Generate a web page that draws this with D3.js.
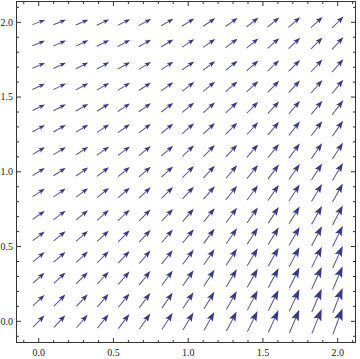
<!DOCTYPE html>
<html>
<head>
<meta charset="utf-8">
<script src="https://cdn.jsdelivr.net/npm/d3@7"></script>
<style>
  body { margin: 0; background: white; }
  svg { display: block; }
  .tick-label { font-family: "Liberation Serif", "DejaVu Serif", serif; font-size: 10px; fill: #222; }
</style>
</head>
<body>
<svg id="vis-field" width="360" height="359"></svg>
<script>

// grid sample positions (x columns, y rows)
const xVals = [0, 0.14, 0.29, 0.43, 0.57, 0.71, 0.86, 1.0, 1.14, 1.29, 1.43, 1.57, 1.71, 1.86, 2.0];
const yVals = [0, 0.14, 0.29, 0.43, 0.57, 0.71, 0.86, 1.0, 1.14, 1.29, 1.43, 1.57, 1.71, 1.86, 2.0];

// slope dy/dx of the arrow at each grid point, one row per y value (bottom row first)
const slopes = [
  [1.00, 1.07, 1.15, 1.24, 1.33, 1.43, 1.54, 1.65, 1.77, 1.90, 2.04, 2.20, 2.36, 2.53, 2.72],
  [0.93, 1.00, 1.07, 1.15, 1.24, 1.33, 1.43, 1.54, 1.65, 1.77, 1.90, 2.04, 2.20, 2.36, 2.53],
  [0.87, 0.93, 1.00, 1.07, 1.15, 1.24, 1.33, 1.43, 1.54, 1.65, 1.77, 1.90, 2.04, 2.20, 2.36],
  [0.81, 0.87, 0.93, 1.00, 1.07, 1.15, 1.24, 1.33, 1.43, 1.54, 1.65, 1.77, 1.90, 2.04, 2.20],
  [0.75, 0.81, 0.87, 0.93, 1.00, 1.07, 1.15, 1.24, 1.33, 1.43, 1.54, 1.65, 1.77, 1.90, 2.04],
  [0.70, 0.75, 0.81, 0.87, 0.93, 1.00, 1.07, 1.15, 1.24, 1.33, 1.43, 1.54, 1.65, 1.77, 1.90],
  [0.65, 0.70, 0.75, 0.81, 0.87, 0.93, 1.00, 1.07, 1.15, 1.24, 1.33, 1.43, 1.54, 1.65, 1.77],
  [0.61, 0.65, 0.70, 0.75, 0.81, 0.87, 0.93, 1.00, 1.07, 1.15, 1.24, 1.33, 1.43, 1.54, 1.65],
  [0.57, 0.61, 0.65, 0.70, 0.75, 0.81, 0.87, 0.93, 1.00, 1.07, 1.15, 1.24, 1.33, 1.43, 1.54],
  [0.53, 0.57, 0.61, 0.65, 0.70, 0.75, 0.81, 0.87, 0.93, 1.00, 1.07, 1.15, 1.24, 1.33, 1.43],
  [0.49, 0.53, 0.57, 0.61, 0.65, 0.70, 0.75, 0.81, 0.87, 0.93, 1.00, 1.07, 1.15, 1.24, 1.33],
  [0.46, 0.49, 0.53, 0.57, 0.61, 0.65, 0.70, 0.75, 0.81, 0.87, 0.93, 1.00, 1.07, 1.15, 1.24],
  [0.42, 0.46, 0.49, 0.53, 0.57, 0.61, 0.65, 0.70, 0.75, 0.81, 0.87, 0.93, 1.00, 1.07, 1.15],
  [0.40, 0.42, 0.46, 0.49, 0.53, 0.57, 0.61, 0.65, 0.70, 0.75, 0.81, 0.87, 0.93, 1.00, 1.07],
  [0.37, 0.40, 0.42, 0.46, 0.49, 0.53, 0.57, 0.61, 0.65, 0.70, 0.75, 0.81, 0.87, 0.93, 1.00]
];

const majorTicks = [0, 0.5, 1.0, 1.5, 2.0];
const tickLabels = ['0.0', '0.5', '1.0', '1.5', '2.0'];
const minorTicks = [-0.1, 0.1, 0.2, 0.3, 0.4, 0.6, 0.7, 0.8, 0.9, 1.1, 1.2, 1.3, 1.4, 1.6, 1.7, 1.8, 1.9, 2.1];

const field = {

    dims : {

        frame : { left : 16.5, right : 355.5, top : 1.5, bottom : 342.5 },
        major : 4.5,
        minor : 2.5

    },

    scales : {

        x : d3.scaleLinear().domain([0, 2]).range([38.7, 337.7]),
        y : d3.scaleLinear().domain([0, 2]).range([321.3, 22.3]),
        len : null

    },

    colors : {

        arrow : '#3a388a',
        shaft : '#57558f',
        frame : '#333'

    },

    data : {

        points : [],

        build : function() {

            slopes.forEach((row, j) => {
                row.forEach((s, i) => {
                    field.data.points.push({
                        x : xVals[i],
                        y : yVals[j],
                        u : 1,
                        v : s,
                        mag : Math.hypot(1, s)
                    });
                });
            });

            field.scales.len = d3.scaleLinear()
              .domain(d3.extent(field.data.points, d => d.mag))
              .range([13.5, 28]);

        }

    },

    render : {

        frame : function(svg) {

            const f = field.dims.frame;
            const x = field.scales.x, y = field.scales.y;
            const g = svg.append('g').attr('stroke', field.colors.frame).attr('fill', 'none');

            g.append('rect')
              .attr('x', f.left).attr('y', f.top)
              .attr('width', f.right - f.left).attr('height', f.bottom - f.top)
              .attr('stroke-width', 1);

            const ticks = majorTicks.map(t => ({ t, len : field.dims.major }))
              .concat(minorTicks.map(t => ({ t, len : field.dims.minor })));

            // ticks on all four sides, pointing in
            ticks.forEach(d => {
                g.append('line')
                  .attr('x1', x(d.t)).attr('x2', x(d.t))
                  .attr('y1', f.bottom).attr('y2', f.bottom - d.len);
                g.append('line')
                  .attr('x1', x(d.t)).attr('x2', x(d.t))
                  .attr('y1', f.top).attr('y2', f.top + d.len);
                g.append('line')
                  .attr('x1', f.left).attr('x2', f.left + d.len)
                  .attr('y1', y(d.t)).attr('y2', y(d.t));
                g.append('line')
                  .attr('x1', f.right).attr('x2', f.right - d.len)
                  .attr('y1', y(d.t)).attr('y2', y(d.t));
            });

            svg.append('g')
              .selectAll('text')
              .data(majorTicks)
              .join('text')
              .attr('class', 'tick-label')
              .attr('x', d => x(d))
              .attr('y', 355.5)
              .attr('text-anchor', 'middle')
              .text((d, i) => tickLabels[i]);

            svg.append('g')
              .selectAll('text')
              .data(majorTicks)
              .join('text')
              .attr('class', 'tick-label')
              .attr('x', 13)
              .attr('y', d => y(d) + 3.4)
              .attr('text-anchor', 'end')
              .text((d, i) => tickLabels[i]);

        },

        arrows : function(svg) {

            const x = field.scales.x, y = field.scales.y, len = field.scales.len;

            const g = svg.append('g')
              .selectAll('g')
              .data(field.data.points)
              .join('g')
              .attr('transform', d => {
                  const px = x(d.u) - x(0), py = y(0) - y(d.v);
                  const ang = Math.atan2(-py, px) * 180 / Math.PI;
                  return `translate(${x(d.x)},${y(d.y)}) rotate(${ang})`;
              });

            g.append('line')
              .attr('x1', d => -len(d.mag) / 2)
              .attr('x2', d => len(d.mag) / 2 - len(d.mag) * 0.3)
              .attr('y1', 0).attr('y2', 0)
              .attr('stroke', field.colors.shaft)
              .attr('stroke-width', 1);

            g.append('path')
              .attr('fill', field.colors.arrow)
              .attr('d', d => {
                  const L = len(d.mag), tip = L / 2, h = L * 0.44, w = L * 0.16;
                  return `M${tip},0 L${tip - h},${w} L${tip - h * 0.8},0 L${tip - h},${-w} Z`;
              });

        }

    },

    ctrl : {

        init : function() {

            const svg = d3.select('svg#vis-field');
            field.data.build();
            field.render.arrows(svg);
            field.render.frame(svg);

        }

    }

};

field.ctrl.init();
</script>
</body>
</html>
